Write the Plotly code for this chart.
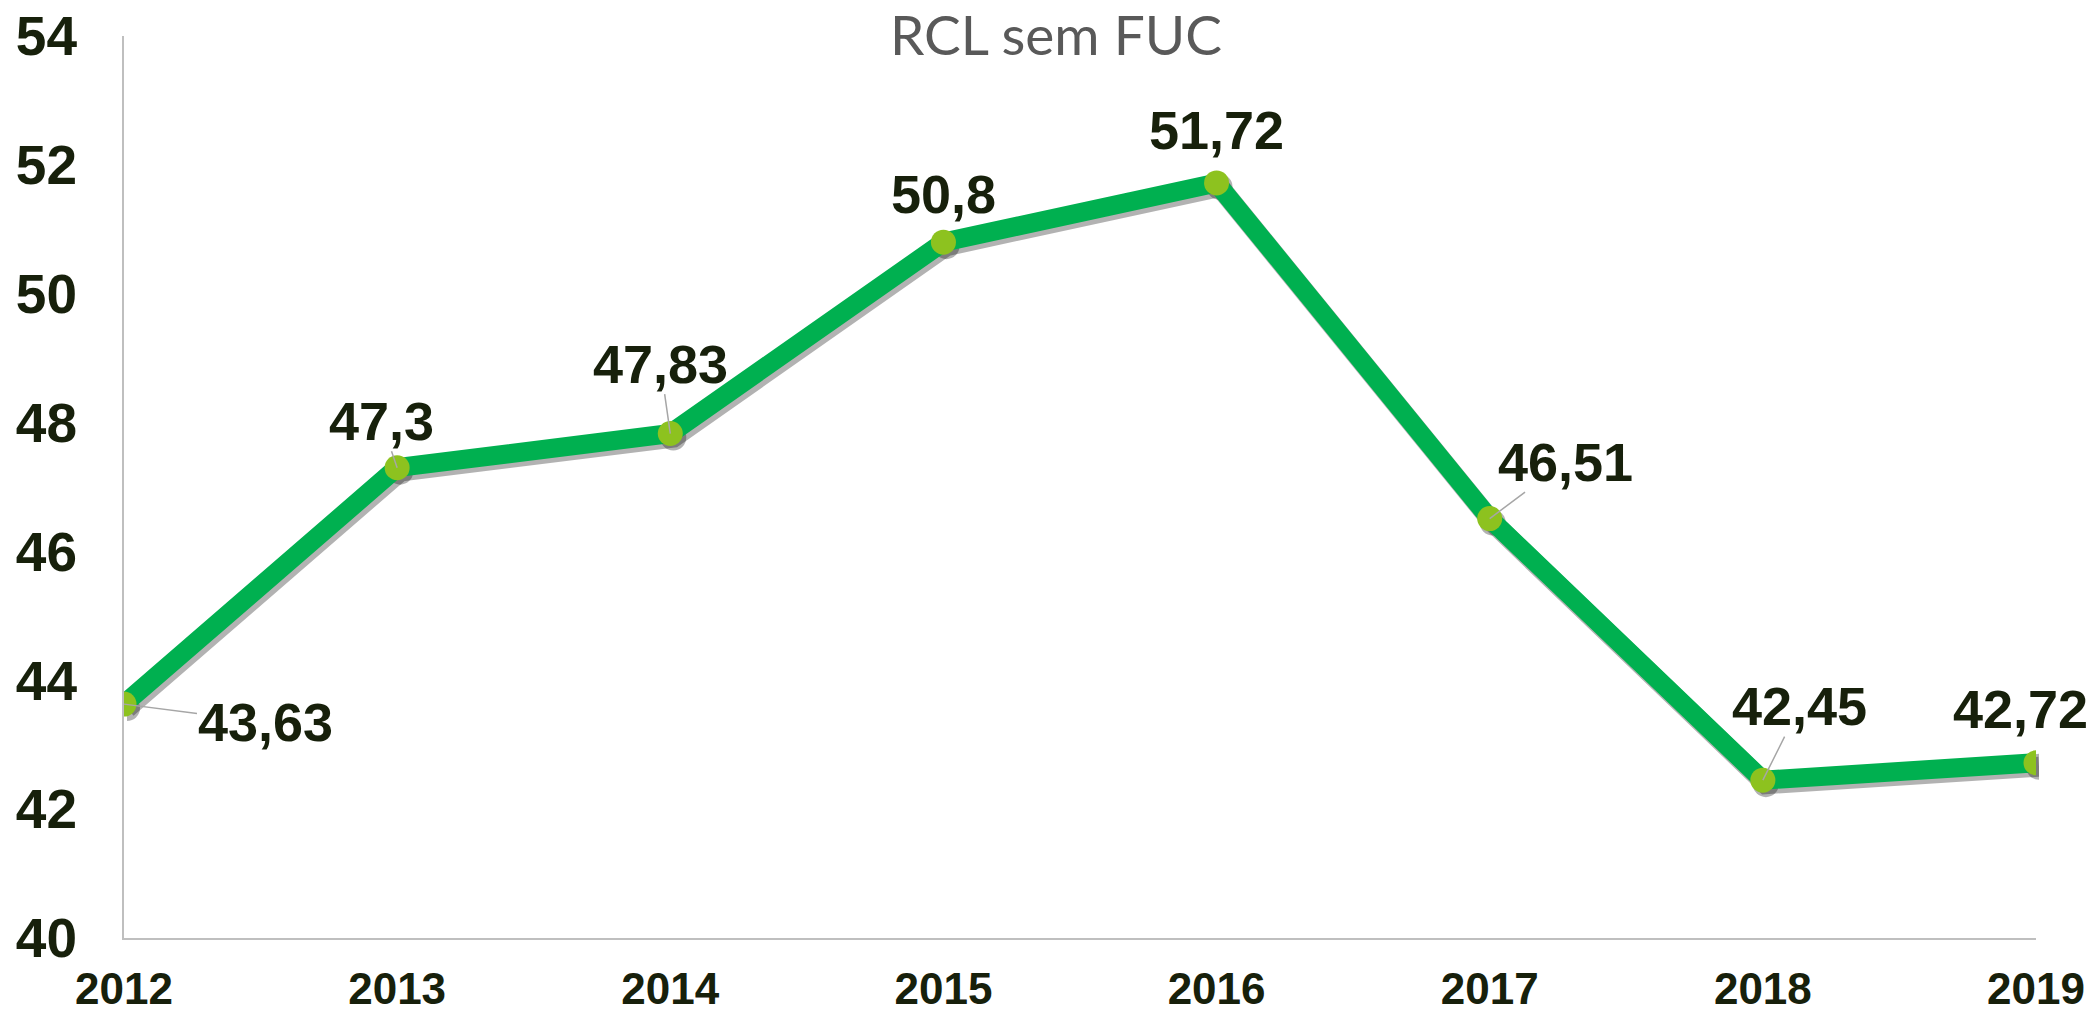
import plotly.graph_objects as go

years = [2012, 2013, 2014, 2015, 2016, 2017, 2018, 2019]
values = [43.63, 47.30, 47.83, 50.80, 51.72, 46.51, 42.45, 42.72]
labels = ["43,63", "47,3", "47,83", "50,8", "51,72", "46,51", "42,45", "42,72"]
y_ticks = [40, 42, 44, 46, 48, 50, 52, 54]

# label offsets (pixels) from each point, and whether a leader line is shown
label_dx = [141, -16, -10, 0, 0, 76, 37, -16]
label_dy = [18, -47, -70, -48, -53, -57, -74, -54]
leader = [True, True, True, False, False, True, True, False]

W, H = 2096, 1015
ml, mr, mt, mb = 124, 57, 36, 73
pw = W - ml - mr
ph = H - mt - mb
sdx, sdy = 3, 4  # shadow pixel offset

dark = "#17200B"
fig = go.Figure()

# shadow: same data on a hidden subplot shifted by a few pixels
fig.add_trace(go.Scatter(
    x=years, y=values, xaxis="x", yaxis="y", mode="lines+markers",
    line=dict(color="rgba(0,0,0,0.3)", width=20),
    marker=dict(size=26, color="rgba(0,0,0,0.3)"),
    hoverinfo="skip", showlegend=False,
))
fig.add_trace(go.Scatter(
    x=years, y=values, xaxis="x2", yaxis="y2", mode="lines+markers",
    line=dict(color="#00B050", width=19),
    marker=dict(size=25, color="#8DC21F"),
    showlegend=False,
))

for yr, v, t, dx, dy, ld in zip(years, values, labels, label_dx, label_dy, leader):
    fig.add_annotation(
        x=yr, y=v, xref="x2", yref="y2", text=t, showarrow=True,
        arrowhead=0, arrowwidth=1.5,
        arrowcolor="#A6A6A6" if ld else "rgba(0,0,0,0)",
        ax=dx, ay=dy, standoff=0, borderpad=0,
        font=dict(family="Liberation Sans", size=54, color=dark, weight="bold"),
    )

fig.update_layout(
    width=W, height=H,
    margin=dict(l=ml, r=mr, t=mt, b=mb, autoexpand=False),
    paper_bgcolor="white", plot_bgcolor="rgba(0,0,0,0)",
    title=dict(
        text="RCL sem FUC", x=1056 / W, xref="container", xanchor="center",
        y=1 - 36 / H, yref="container", yanchor="middle",
        font=dict(family="Lato", size=55, color="#595959"),
    ),
    xaxis=dict(
        range=[years[0], years[-1]], domain=[sdx / pw, 1], anchor="y",
        visible=False, fixedrange=True,
    ),
    yaxis=dict(
        range=[40, 54], domain=[0, 1 - sdy / ph], anchor="x",
        visible=False, fixedrange=True,
    ),
    xaxis2=dict(
        range=[years[0], years[-1]], domain=[0, 1 - sdx / pw], anchor="y2",
        tickvals=years, tickformat="d",
        showline=True, linecolor="#BFBFBF", linewidth=2, showgrid=False,
        zeroline=False, ticks="outside", ticklen=11, tickcolor="rgba(0,0,0,0)",
        tickfont=dict(family="Liberation Sans", size=44, color=dark, weight="bold"),
        automargin=False,
    ),
    yaxis2=dict(
        range=[40, 54], domain=[sdy / ph, 1], anchor="x2", tickvals=y_ticks,
        showline=True, linecolor="#BFBFBF", linewidth=2, showgrid=False,
        zeroline=False, ticks="outside", ticklen=34, tickcolor="rgba(0,0,0,0)",
        tickfont=dict(family="Liberation Sans", size=55, color=dark, weight="bold"),
        automargin=False,
    ),
)

fig.write_html(
    "out.html",
    config={"displayModeBar": False},
    post_script="document.body.style.margin='0';",
)
